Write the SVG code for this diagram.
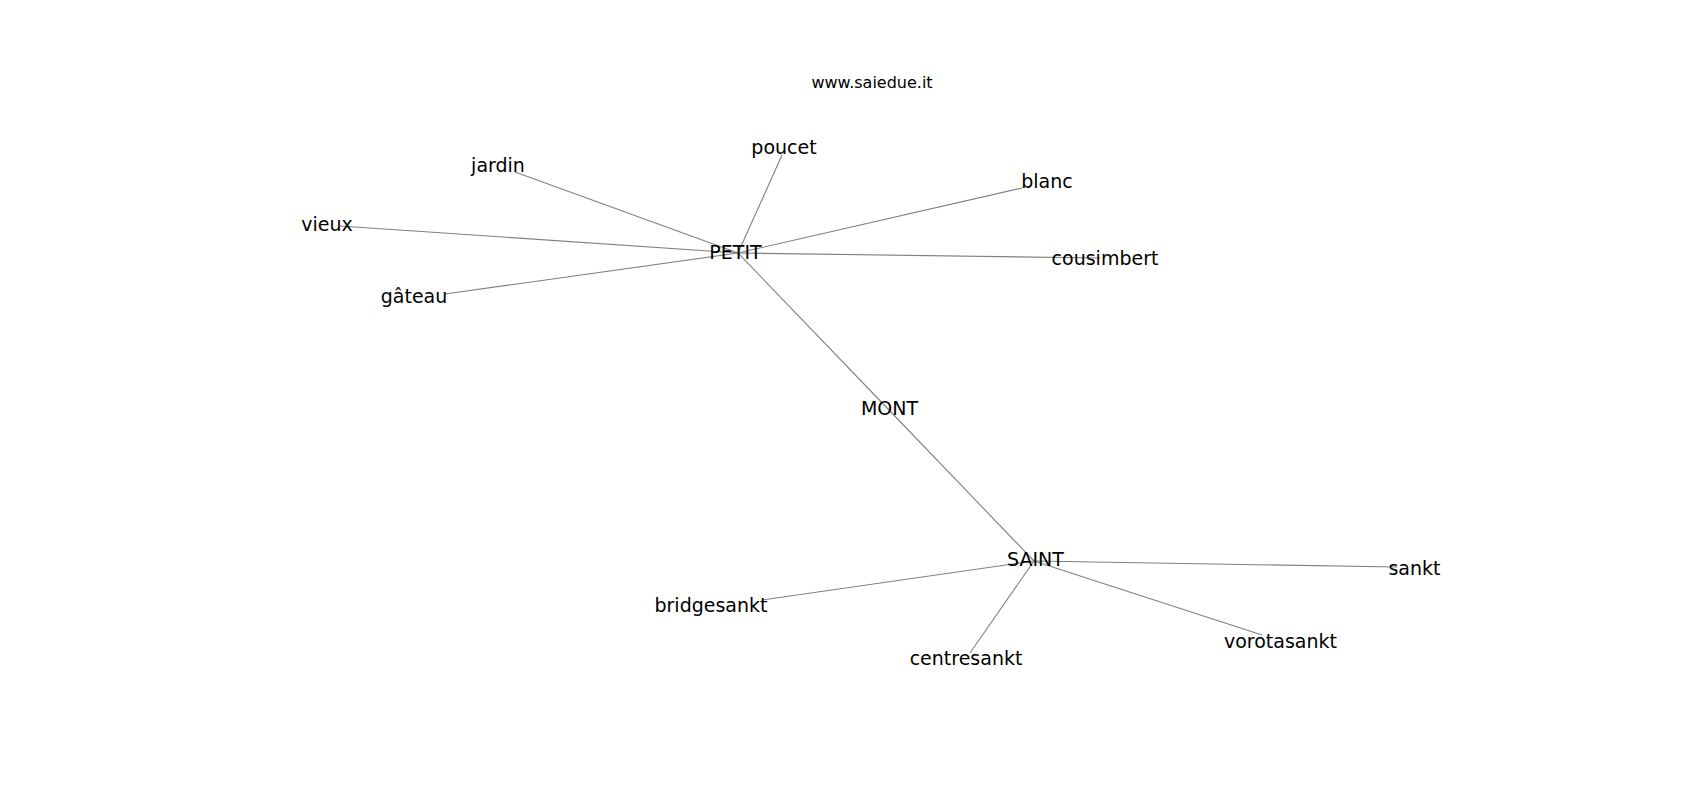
<svg xmlns="http://www.w3.org/2000/svg" width="1700" height="800" viewBox="0 0 1700 800">
<style>
.e{stroke:#808080;stroke-width:1.1;fill:none}
.l{font-family:"DejaVu Sans",sans-serif;font-size:19px;fill:#000;text-anchor:middle}
.t{font-family:"DejaVu Sans",sans-serif;font-size:16px;fill:#000;text-anchor:middle}
</style>
<rect width="1700" height="800" fill="#fff"/>
<text class="t" x="872" y="88">www.saiedue.it</text>
<g id="edges">
<line class="e" x1="738" y1="253" x2="515" y2="172"/>
<line class="e" x1="738" y1="253" x2="340" y2="226"/>
<line class="e" x1="738" y1="253" x2="445" y2="294"/>
<line class="e" x1="738" y1="253" x2="782" y2="155"/>
<line class="e" x1="738" y1="253" x2="1022" y2="188"/>
<line class="e" x1="738" y1="253" x2="1100" y2="258"/>
<line class="e" x1="738" y1="253" x2="889" y2="410"/>
<line class="e" x1="889" y1="410" x2="1034" y2="561"/>
<line class="e" x1="1034" y1="561" x2="762" y2="600"/>
<line class="e" x1="1034" y1="561" x2="970" y2="653"/>
<line class="e" x1="1034" y1="561" x2="1262" y2="635"/>
<line class="e" x1="1034" y1="561" x2="1397" y2="567"/>
</g>
<g id="n-PETIT"><text class="l" x="735.5" y="259">PETIT</text></g>
<g id="n-jardin"><text class="l" x="498" y="171.5">jardin</text></g>
<g id="n-vieux"><text class="l" x="327" y="231">vieux</text></g>
<g id="n-gateau"><text class="l" x="414" y="302.5">gâteau</text></g>
<g id="n-poucet"><text class="l" x="784" y="153.5">poucet</text></g>
<g id="n-blanc"><text class="l" x="1047" y="188">blanc</text></g>
<g id="n-cousimbert"><text class="l" x="1105" y="265">cousimbert</text></g>
<g id="n-MONT"><text class="l" x="889.5" y="415">MONT</text></g>
<g id="n-SAINT"><text class="l" x="1035.5" y="566">SAINT</text></g>
<g id="n-bridgesankt"><text class="l" x="711" y="611.5">bridgesankt</text></g>
<g id="n-centresankt"><text class="l" x="966" y="664.5">centresankt</text></g>
<g id="n-vorotasankt"><text class="l" x="1280.5" y="648">vorotasankt</text></g>
<g id="n-sankt"><text class="l" x="1414.5" y="575">sankt</text></g>
</svg>
